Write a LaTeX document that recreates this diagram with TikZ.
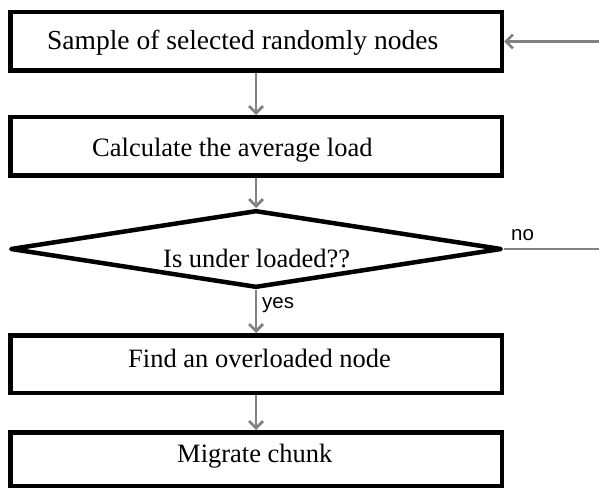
\documentclass[tikz,border=0pt]{standalone}
\usepackage{fontspec}
\setmainfont{Liberation Serif}
\newfontfamily\tagfont{Liberation Sans}
\usepackage{tikz}
\usetikzlibrary{arrows.meta,calc,positioning,shapes.geometric}
\definecolor{flowgray}{RGB}{130,130,130}

\begin{document}
\begin{tikzpicture}[x=1pt,y=-1pt,>={Straight Barb[length=7pt,width=14pt]},
		box/.style={draw,line width=4.5pt,minimum width=491.5pt,inner sep=0pt},
		test/.style={diamond,draw,line width=4.5pt,line join=round,minimum width=491.5pt,minimum height=77.5pt,inner sep=0pt},
		txt/.style={anchor=base west,inner sep=0pt,font=\fontsize{26.5}{30}\selectfont},
		tag/.style={anchor=base west,inner sep=0pt,font=\tagfont\fontsize{20.5}{24}\selectfont},
		flow/.style={draw=flowgray,line width=2.8pt}]
		\useasboundingbox (0,0) rectangle (599,489);
		\node[box,minimum height=58.5pt] (sample) at (256,41.5) {};
		\node[box,minimum height=58.5pt] [below=42pt of sample] (average) {};
		\node[test] [below=30pt of average] (underload) {};
		\node[box,minimum height=57.5pt] [below=43pt of underload] (overload) {};
		\node[box,minimum height=53.5pt] [below=35pt of overload] (migrate) {};
		\node[txt,font=\fontsize{27.5}{31}\selectfont] (sampletxt) at (47,50) {Sample of selected randomly nodes};
		\node[txt] (averagetxt) at (92,157) {Calculate the average load};
		\node[txt] (underloadtxt) at (163,267) {Is under loaded??};
		\node[txt] (overloadtxt) at (128,367) {Find an overloaded node};
		\node[txt] (migratetxt) at (177,462) {Migrate chunk};
		\coordinate (back) at (599,41.5);
		\coordinate (exit) at (599,249);
		\path[->]
			(back) edge[flow] (sample)
			(sample) edge[flow] (average)
			(average) edge[flow] (underload)
			(underload) edge[flow] (overload)
			(overload) edge[flow] (migrate);
		\path (underload) edge[flow] (exit);
		\node[tag] (yes) at (262,308) {yes};
		\node[tag] (no) at (511,240) {no};
	\end{tikzpicture}
\end{document}
